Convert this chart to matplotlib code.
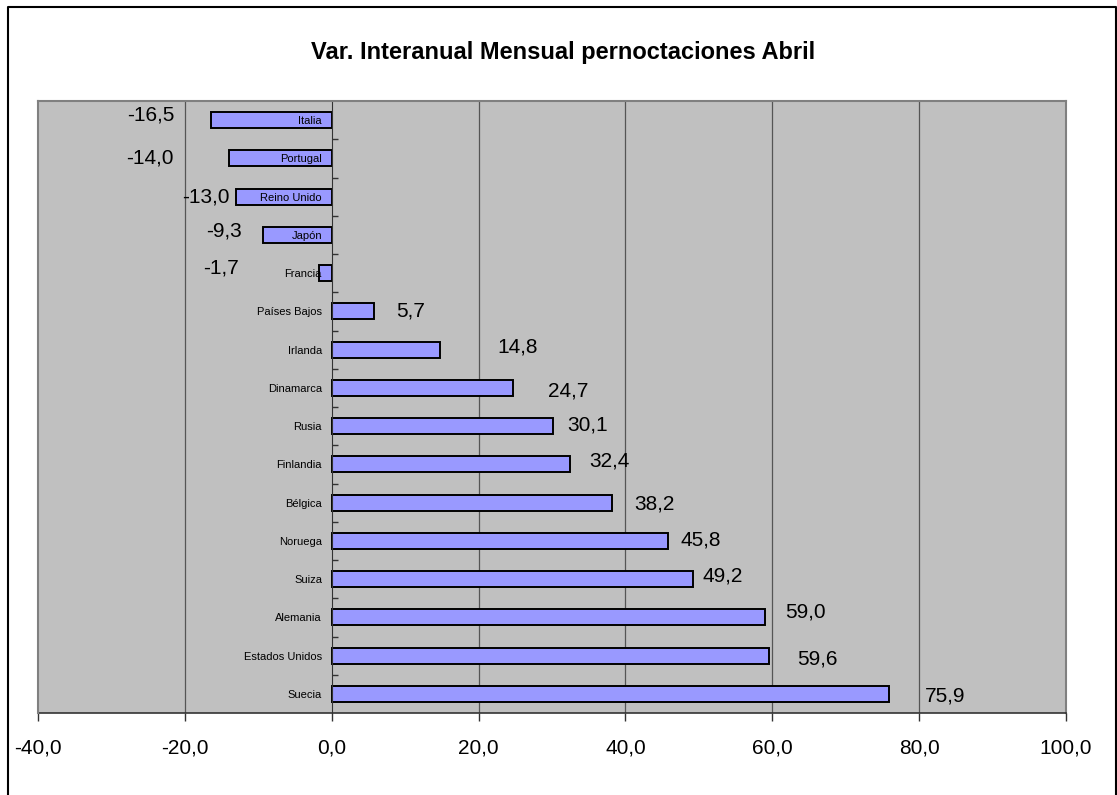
import matplotlib
matplotlib.use("Agg")
import matplotlib.pyplot as plt
from matplotlib.lines import Line2D
from matplotlib.ticker import FixedLocator, FuncFormatter

plt.rcParams['font.family'] = ['Liberation Sans', 'DejaVu Sans']

# ---- data ----
title = "Var. Interanual Mensual pernoctaciones Abril"
countries = ["Italia", "Portugal", "Reino Unido", "Japón", "Francia", "Países Bajos",
             "Irlanda", "Dinamarca", "Rusia", "Finlandia", "Bélgica", "Noruega",
             "Suiza", "Alemania", "Estados Unidos", "Suecia"]
values = [-16.5, -14.0, -13.0, -9.3, -1.7, 5.7, 14.8, 24.7, 30.1, 32.4, 38.2,
          45.8, 49.2, 59.0, 59.6, 75.9]
x_ticks = [-40, -20, 0, 20, 40, 60, 80, 100]

# ---- label layout (annotation placement, data units) ----
label_x = [-24.7, -24.7, -17.1, -14.7, -15.1, 10.8, 25.3, 32.2, 34.9, 37.8, 44.0,
           50.2, 53.3, 64.5, 66.1, 83.5]
label_dy = [-0.13, 0.0, 0.0, -0.1, -0.13, 0.0, -0.08, 0.08, -0.03, -0.08, 0.03,
            -0.03, -0.08, -0.13, 0.08, 0.05]

W, H = 1117, 795
fig = plt.figure(figsize=(W / 100, H / 100), dpi=100)
ax = fig.add_axes([38 / W, 1 - 713 / H, (1066 - 38) / W, (713 - 101) / H])
ax.set_facecolor('#C0C0C0')
ax.set_axisbelow(False)

ypos = list(range(len(countries)))
ax.barh(ypos, values, height=0.42, color='#9999FF', edgecolor='black',
        linewidth=1.4, zorder=1.5)

ax.set_xlim(-40, 100)
ax.set_ylim(len(countries) - 0.5, -0.5)

# gridlines
for xv in x_ticks[1:-1]:
    if xv != 0:
        ax.axvline(xv, color='#555555', linewidth=0.9, zorder=1)

# spines
ax.spines['left'].set_position(('data', 0))
ax.spines['left'].set_color('#333333')
ax.spines['bottom'].set_color('#333333')
ax.spines['bottom'].set_linewidth(1.2)
for s in ['top', 'right']:
    ax.spines[s].set_color('#808080')
    ax.spines[s].set_linewidth(1.5)
ax.axvline(-40, color='#808080', linewidth=1.5, zorder=5, clip_on=False)

# x ticks
ax.xaxis.set_major_locator(FixedLocator(x_ticks))
ax.xaxis.set_major_formatter(FuncFormatter(lambda v, p: f"{v:.1f}".replace('.', ',')))
ax.tick_params(axis='x', direction='out', length=6, width=1, color='#333333',
               labelsize=15, pad=12)

# y ticks
ax.set_yticks(ypos)
ax.set_yticklabels(countries)
ax.yaxis.set_minor_locator(FixedLocator([i + 0.5 for i in range(len(countries) - 1)]))
ax.tick_params(axis='y', which='major', length=0, labelsize=8, pad=7)
ax.tick_params(axis='y', which='minor', direction='in', length=4, width=1, color='#333333')

# value labels
for i, v in enumerate(values):
    ax.text(label_x[i], i + label_dy[i], f"{v:.1f}".replace('.', ','),
            ha='center', va='center', fontsize=15, color='black', zorder=6)

fig.text(563 / W, 1 - 53 / H, title, ha='center', va='center',
         fontsize=17, fontweight='bold')

# chart-area frame (left, top, right edges)
fx = [7.5 / W, 7.5 / W, 1115.5 / W, 1115.5 / W]
fy = [0.0, 1 - 6.5 / H, 1 - 6.5 / H, 0.0]
fig.add_artist(Line2D(fx, fy, transform=fig.transFigure, color='black', linewidth=1.5))

fig.savefig("out.png", dpi=100)
